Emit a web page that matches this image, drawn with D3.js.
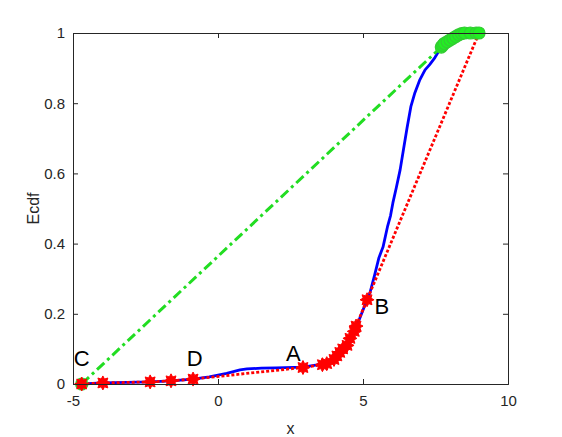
<!DOCTYPE html>
<html><head><meta charset="utf-8">
<script src="https://cdn.jsdelivr.net/npm/d3@7"></script>
<style>body{margin:0;background:#fff}svg{display:block}text{font-family:"Liberation Sans",Arial,sans-serif}</style>
</head><body>
<svg id="c" width="562" height="437"></svg>
<script>
const xTicks = [-5, 0, 5, 10];
const yTicks = [0, 0.2, 0.4, 0.6, 0.8, 1];
const blueX = [-4.7,-3.97,-2.34,-1.62,-0.86,-0.3,0.3,0.76,1.0,1.5,2.0,2.93,3.7,4.1,4.45,4.76,5.14,5.24,5.4,5.55,5.69,5.85,5.95,6.03,6.15,6.28,6.4,6.52,6.65,6.79,6.95,7.14,7.3,7.48,7.7];
const blueY = [0,0.003,0.006,0.009,0.014,0.02,0.03,0.04,0.043,0.045,0.046,0.048,0.058,0.075,0.105,0.16,0.24,0.26,0.31,0.36,0.39,0.45,0.48,0.516,0.56,0.61,0.67,0.73,0.79,0.83,0.865,0.895,0.91,0.93,0.96];
const redX = [-4.7,-3.97,-2.34,-1.62,-0.86,2.93,3.6,3.75,4.0,4.1,4.2,4.3,4.45,4.55,4.7,4.76,5.14,9.0];
const redY = [0,0.003,0.006,0.009,0.014,0.047,0.055,0.058,0.07,0.08,0.09,0.1,0.11,0.13,0.15,0.165,0.24,1.0];
const greenX = [-4.7,7.7,7.75,7.8,7.9,8.0,8.1,8.2,8.3,8.4,8.5,8.7,8.9,9.0];
const greenY = [0,0.96,0.965,0.97,0.975,0.98,0.985,0.99,0.995,0.998,1.0,1.0,1.0,1.0];
const labels = ["C","D","A","B"];
const labelX = [-4.7,-0.8,2.6,5.65];
const labelY = [0.05,0.05,0.065,0.2];

const svg = d3.select("#c");
const L=73,T=33,W=435,H=351;
const x = d3.scaleLinear().domain([-5,10]).range([L,L+W]);
const y = d3.scaleLinear().domain([0,1]).range([T+H,T]);
const ax="#262626";
const g = svg.append("g");

const xa = svg.append("g").attr("transform",`translate(0,${T+H})`).call(d3.axisBottom(x).tickValues(xTicks).tickSize(-5).tickPadding(11).tickFormat(d=>String(d)));
const ya = svg.append("g").attr("transform",`translate(${L},0)`).call(d3.axisLeft(y).tickValues(yTicks).tickSize(-5).tickPadding(8).tickFormat(d=>String(d)));
const xt = svg.append("g").attr("transform",`translate(0,${T})`).call(d3.axisTop(x).tickValues(xTicks).tickSize(-5).tickFormat(""));
const yr = svg.append("g").attr("transform",`translate(${L+W},0)`).call(d3.axisRight(y).tickValues(yTicks).tickSize(-5).tickFormat(""));
[xa,ya,xt,yr].forEach(a=>{a.select(".domain").attr("stroke",ax).attr("stroke-width",1);a.selectAll(".tick line").attr("stroke",ax);a.selectAll("text").attr("fill",ax).style("font-size","15px");});

svg.append("text").attr("x",x(2.5)).attr("y",434).attr("text-anchor","middle").attr("fill",ax).style("font-size","16px").text("x");
svg.append("text").attr("transform",`translate(39,${y(0.5)}) rotate(-90)`).attr("text-anchor","middle").attr("fill",ax).style("font-size","16px").text("Ecdf");

const line = d3.line().x(d=>x(d[0])).y(d=>y(d[1]));
const bl = blueX.map((v,i)=>[v,blueY[i]]);
const rd = redX.map((v,i)=>[v,redY[i]]);
const gr = greenX.map((v,i)=>[v,greenY[i]]);

g.append("path").datum(bl).attr("d",line).attr("fill","none").attr("stroke","#0000ff").attr("stroke-width",2.8).attr("stroke-linejoin","round");
g.append("path").datum(rd).attr("d",line).attr("fill","none").attr("stroke","#ff0000").attr("stroke-width",2.8).attr("stroke-dasharray","3,2");
g.append("path").datum(gr).attr("d",line).attr("fill","none").attr("stroke","#22dd22").attr("stroke-width",3).attr("stroke-dasharray","10,4,3,4");

g.selectAll("circle.g").data(gr).join("circle").attr("cx",d=>x(d[0])).attr("cy",d=>y(d[1])).attr("r",6).attr("fill","#22ee22").attr("stroke","#33cc33").attr("stroke-width",1.2);

function star(r1,r2,n){const p=[];for(let i=0;i<2*n;i++){const r=i%2?r2:r1;const a=Math.PI*i/n-Math.PI/2;p.push([r*Math.cos(a),r*Math.sin(a)]);}return "M"+p.map(q=>q.join(",")).join("L")+"Z";}
const sp = star(7,4.2,8);
g.selectAll("path.r").data(rd.slice(0,-1)).join("path").attr("d",sp).attr("transform",d=>`translate(${x(d[0])},${y(d[1])})`).attr("fill","#ff0000").attr("stroke","#ff0000").attr("stroke-width",1);

labels.forEach((t,i)=>{svg.append("text").attr("x",x(labelX[i])).attr("y",y(labelY[i])).attr("text-anchor","middle").attr("fill","#000").style("font-size","22px").text(t);});
</script>
</body></html>
